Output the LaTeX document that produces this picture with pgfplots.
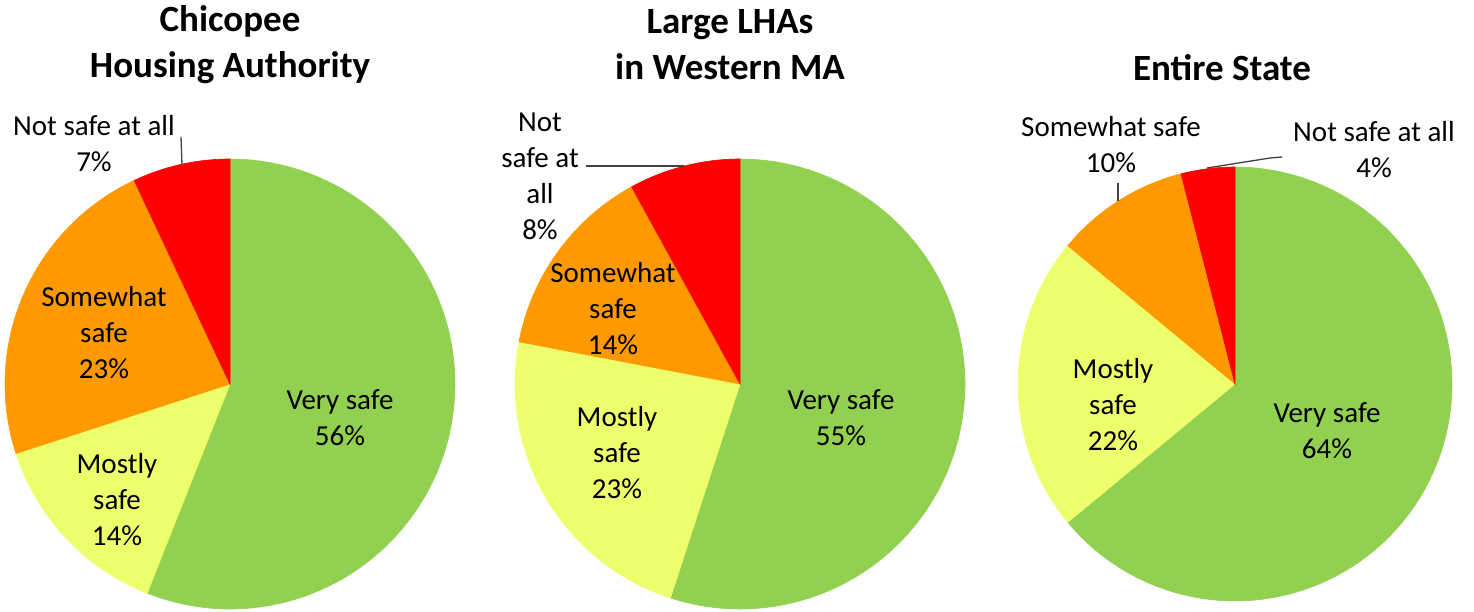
\documentclass[border=0pt]{standalone}
\usepackage{fontspec}
\setmainfont{Carlito}
\usepackage{pgfplots}
\pgfplotsset{compat=1.18}

\definecolor{verysafe}{HTML}{92D050}
\definecolor{mostlysafe}{HTML}{EEFF6C}
\definecolor{somewhatsafe}{HTML}{FF9900}
\definecolor{notsafe}{HTML}{FF0000}
\definecolor{leader}{HTML}{404040}

% pie helpers: centre and radius in pixel units, slices clockwise from 12 o'clock
\newcommand\startpie[3]{\gdef\pcx{#1}\gdef\pcy{#2}\gdef\prad{#3}\gdef\pcum{0}}
\newcommand\slice[2]{%
  \pgfmathsetmacro\pa{\pcum}%
  \pgfmathsetmacro\pb{\pcum+#1}%
  \edef\doslice{\noexpand\addplot[draw=#2, line width=0.3pt, fill=#2, domain=\pa:\pb, samples=90, variable=\noexpand\t]
    ({\pcx+\prad*sin(3.6*\noexpand\t)}, {\pcy+\prad*cos(3.6*\noexpand\t)}) -- (axis cs:\pcx,\pcy) -- cycle;}%
  \doslice
  \xdef\pcum{\pb}}

\tikzset{lbl/.style={align=center, font=\fontsize{14.5}{18}\selectfont, text=black, inner sep=0pt},
  ttl/.style={align=center, font=\fontsize{18.5}{23}\selectfont\bfseries, text=black, inner sep=0pt}}

\begin{document}
\begin{tikzpicture}
\begin{axis}[
    width=737pt, height=305.5pt, scale only axis,
    xmin=0, xmax=1474, ymin=-611, ymax=0,
    hide axis, clip=false, no markers,
]
% Chicopee Housing Authority
\startpie{230}{-384}{225}
\slice{56}{verysafe}
\slice{14}{mostlysafe}
\slice{23}{somewhatsafe}
\slice{7}{notsafe}

% Large LHAs in Western MA
\startpie{740}{-384}{225}
\slice{55}{verysafe}
\slice{23}{mostlysafe}
\slice{14}{somewhatsafe}
\slice{8}{notsafe}

% Entire State
\startpie{1235}{-384}{217}
\slice{64}{verysafe}
\slice{22}{mostlysafe}
\slice{10}{somewhatsafe}
\slice{4}{notsafe}

% titles
\node[ttl] at (axis cs:230,-45) {Chicopee\\Housing Authority};
\node[ttl] at (axis cs:730,-45) {Large LHAs\\in Western MA};
\node[ttl] at (axis cs:1222,-68) {Entire State};

% leader lines
\draw[leader, line width=0.65pt] (axis cs:181,-137) -- (axis cs:182,-165);
\draw[leader, line width=0.65pt] (axis cs:586,-166) -- (axis cs:684,-166);
\draw[leader, line width=0.65pt] (axis cs:1118,-183) -- (axis cs:1118,-201);
\draw[leader, line width=0.65pt] (axis cs:1207,-168) -- (axis cs:1270,-158) -- (axis cs:1282,-157);

% slice labels, chart 1
\node[lbl] at (axis cs:94,-144) {Not safe at all\\7\%};
\node[lbl] at (axis cs:104,-333) {Somewhat\\safe\\23\%};
\node[lbl] at (axis cs:117,-500) {Mostly\\safe\\14\%};
\node[lbl] at (axis cs:340,-418) {Very safe\\56\%};

% chart 2
\node[lbl] at (axis cs:540,-176) {Not\\safe at\\all\\8\%};
\node[lbl] at (axis cs:613,-309) {Somewhat\\safe\\14\%};
\node[lbl] at (axis cs:617,-453) {Mostly\\safe\\23\%};
\node[lbl] at (axis cs:841,-418) {Very safe\\55\%};

% chart 3
\node[lbl] at (axis cs:1111,-145) {Somewhat safe\\10\%};
\node[lbl] at (axis cs:1374,-150) {Not safe at all\\4\%};
\node[lbl] at (axis cs:1113,-405) {Mostly\\safe\\22\%};
\node[lbl] at (axis cs:1327,-431) {Very safe\\64\%};
\end{axis}
\pgfresetboundingbox
\path (current axis.south west) rectangle (current axis.north east);
\end{tikzpicture}
\end{document}
